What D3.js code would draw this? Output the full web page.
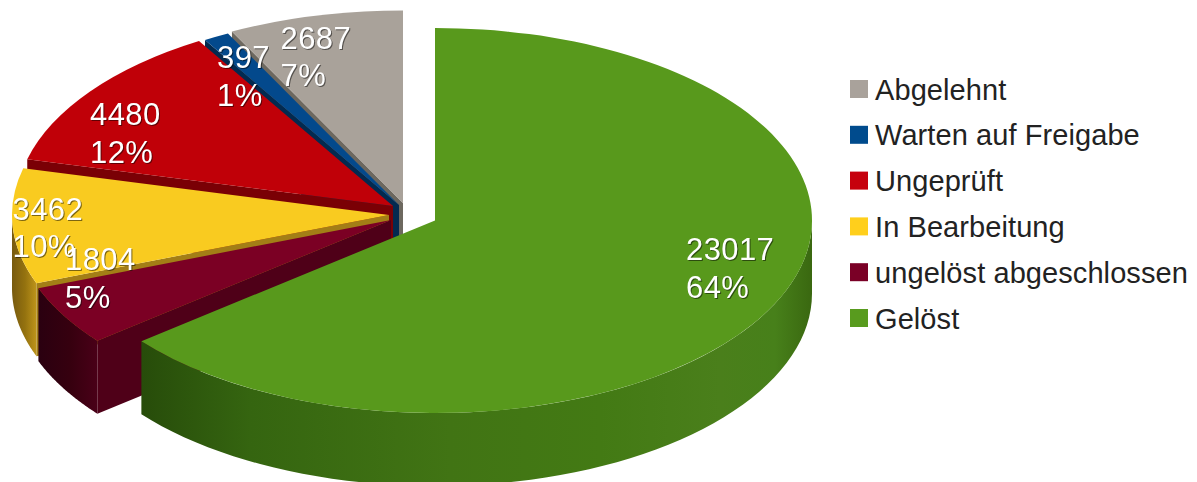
<!DOCTYPE html>
<html>
<head>
<meta charset="utf-8">
<script src="https://cdn.jsdelivr.net/npm/d3@7"></script>
<style>
  html, body { margin: 0; background: #fff; }
  svg { display: block; }
  text { font-family: "Liberation Sans", sans-serif; }
</style>
</head>
<body>
<div id="chart"></div>
<script>
// slices in clockwise order from 12 o'clock
const categories = ["Gelöst", "ungelöst abgeschlossen", "In Bearbeitung", "Ungeprüft", "Warten auf Freigabe", "Abgelehnt"];
const values = [23017, 1804, 3462, 4480, 397, 2687];

const topColors = ["#58991c", "#7b0024", "#f9cb20", "#c00008", "#03498c", "#a9a29a"];
const edgeColors = ["#33600f", "#4f0018", "#a37e16", "#7a0005", "#032a50", "#6d685f"];
const legendColors = ["#589b1e", "#7a0026", "#ffcf1c", "#c6000d", "#004b8d", "#a9a29b"];

// each slice is pulled out by hand, so every one has its own tip
const tips = [[435, 220.5], [391, 220], [389, 215], [393, 206], [399, 205], [403, 203]];
const labelPos = [[686, 260], [65, 270], [12.5, 219.5], [90, 125], [217, 68], [280.5, 48.5]];

const width = 1197, height = 482;
const rx = 377, ry = 192.5, depth = 73;
const lineGap = 37.5;

const svg = d3.select("#chart").append("svg")
  .attr("width", width)
  .attr("height", height);
const defs = svg.append("defs");

const pie = d3.pie().sort(null).startAngle(0).endAngle(2 * Math.PI);
const slices = pie(values);
const total = d3.sum(values);

// d3.arc works on a circle, the squash is done by the transform
const arc = d3.arc().innerRadius(0).outerRadius(rx);
const line = d3.line();

const rimPoint = (i, a) => [tips[i][0] + rx * Math.sin(a), tips[i][1] - ry * Math.cos(a)];
const drop = p => [p[0], p[1] + depth];

// shading of the curved outer walls, dark at the far left
const rimShades = {
  0: [[141, "#274c0a"], [250, "#356510"], [450, "#417414"], [600, "#437a14"], [720, "#4a7f1b"], [775, "#47801a"], [812, "#3a6810"]],
  1: [[38, "#2a0010"], [70, "#36000f"], [98, "#4a0018"]],
  2: [[11, "#75580f"], [25, "#94720f"], [38, "#c4991c"]]
};
Object.keys(rimShades).forEach(k => {
  const stops = rimShades[k];
  const x0 = stops[0][0], x1 = stops[stops.length - 1][0];
  defs.append("linearGradient")
    .attr("id", "rim" + k)
    .attr("gradientUnits", "userSpaceOnUse")
    .attr("x1", x0).attr("x2", x1).attr("y1", 0).attr("y2", 0)
    .selectAll("stop")
    .data(stops)
    .enter().append("stop")
    .attr("offset", d => (d[0] - x0) / (x1 - x0))
    .attr("stop-color", d => d[1]);
});

// painter's order, the first slice in the list goes on last
const drawOrder = d3.range(slices.length).reverse();

drawOrder.forEach(i => {
  const s = slices[i];
  const g = svg.append("g");

  // flat wall on the starting edge, only seen if it faces the viewer
  if (Math.sin(s.startAngle) < -0.001) {
    const a = [tips[i], rimPoint(i, s.startAngle)];
    g.append("path")
      .attr("d", line([a[0], a[1], drop(a[1]), drop(a[0])]) + "Z")
      .attr("fill", edgeColors[i]);
  }

  // curved wall, only the front half of the ellipse
  const from = Math.max(s.startAngle, Math.PI / 2);
  const to = Math.min(s.endAngle, 3 * Math.PI / 2);
  if (to > from) {
    const top = d3.range(0, 61).map(k => rimPoint(i, from + (to - from) * k / 60));
    g.append("path")
      .attr("d", line(top.concat(top.map(drop).reverse())) + "Z")
      .attr("fill", `url(#rim${i})`);
  }

  g.append("path")
    .attr("transform", `translate(${tips[i]}) scale(1,${ry / rx})`)
    .attr("d", arc(s))
    .attr("fill", topColors[i]);
});

// value labels
const labels = svg.append("g")
  .style("filter", "drop-shadow(1px 1px 0 rgba(0,0,0,0.5))")
  .attr("fill", "#fff")
  .attr("font-size", 31)
  .attr("letter-spacing", 0.4);

drawOrder.forEach(i => {
  labels.append("text")
    .attr("x", labelPos[i][0]).attr("y", labelPos[i][1])
    .text(values[i]);
  labels.append("text")
    .attr("x", labelPos[i][0]).attr("y", labelPos[i][1] + lineGap)
    .text(Math.round(values[i] / total * 100) + "%");
});

// legend runs the other way round
const legendNames = categories.slice().reverse();
const legendY = d3.scalePoint().domain(legendNames).range([89, 318]);
const legendColor = d3.scaleOrdinal().domain(categories).range(legendColors);

const legend = svg.append("g")
  .selectAll("g")
  .data(legendNames)
  .enter().append("g")
  .attr("transform", d => `translate(850,${legendY(d)})`);

legend.append("rect")
  .attr("y", -9)
  .attr("width", 18)
  .attr("height", 18)
  .attr("fill", d => legendColor(d));

legend.append("text")
  .attr("x", 25)
  .attr("y", 10.5)
  .attr("font-size", 29)
  .attr("letter-spacing", 0.08)
  .attr("fill", "#222")
  .text(d => d);
</script>
</body>
</html>
